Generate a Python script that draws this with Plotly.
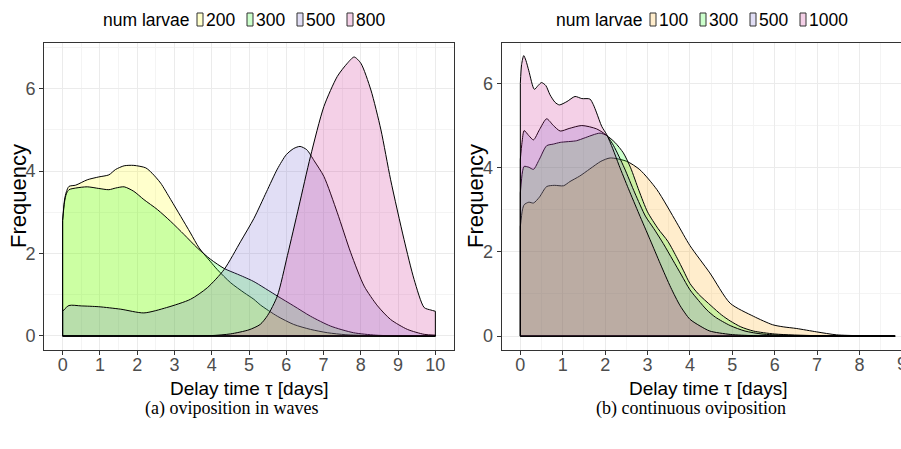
import plotly.graph_objects as go

W, H = 901, 449

# ---------------- panel (a): oviposition in waves ----------------
a_levels = ["200", "300", "500", "800"]

a200_x = [0, 0.05, 0.1, 0.17, 0.35, 0.66, 0.97, 1.24, 1.42, 1.65, 1.91, 2.23, 2.4, 2.63, 2.9, 3.17,
          3.43, 3.66, 3.97, 4.15, 4.51, 4.87, 5.13, 5.31, 5.76, 6.2, 6.65, 7.1, 7.6, 8.2, 9.0, 10]
a200_y = [2.8, 3.3, 3.5, 3.63, 3.66, 3.79, 3.86, 3.91, 4.04, 4.13, 4.14, 4.08, 3.95, 3.71, 3.31, 2.9,
          2.5, 2.14, 1.8, 1.61, 1.29, 1.05, 0.89, 0.75, 0.48, 0.28, 0.16, 0.08, 0.03, 0.01, 0.0, 0.0]

a300_x = [0, 0.05, 0.1, 0.17, 0.35, 0.66, 0.97, 1.24, 1.42, 1.65, 1.91, 2.18, 2.54, 2.9, 3.26, 3.61,
          3.97, 4.33, 4.69, 4.87, 5.13, 5.76, 6.2, 6.65, 7.19, 7.8, 8.4, 9.2, 10]
a300_y = [2.8, 3.25, 3.45, 3.55, 3.59, 3.62, 3.58, 3.55, 3.59, 3.62, 3.51, 3.31, 3.07, 2.78, 2.46, 2.14,
          1.86, 1.64, 1.5, 1.43, 1.32, 0.97, 0.73, 0.48, 0.24, 0.08, 0.02, 0.0, 0.0]

a500_x = [0, 0.17, 0.5, 0.97, 1.56, 2.18, 2.79, 3.43, 3.88, 4.33, 4.78, 5.13, 5.47, 5.76, 6.0, 6.2,
          6.37, 6.55, 6.75, 7.01, 7.37, 7.73, 8.09, 8.45, 8.8, 9.25, 9.7, 10]
a500_y = [0.6, 0.74, 0.73, 0.71, 0.65, 0.56, 0.69, 0.89, 1.17, 1.61, 2.3, 2.85, 3.5, 4.05, 4.4, 4.55,
          4.6, 4.52, 4.25, 3.87, 2.99, 2.02, 1.21, 0.73, 0.4, 0.16, 0.04, 0.02]

a800_x = [0, 3.5, 4.0, 4.5, 5.0, 5.3, 5.5, 5.76, 6.03, 6.34, 6.65, 7.01, 7.37, 7.64, 7.82, 8.0,
          8.27, 8.54, 8.8, 9.16, 9.43, 9.7, 9.88, 10]
a800_y = [0, 0, 0.01, 0.05, 0.15, 0.28, 0.5, 0.97, 1.95, 3.15, 4.36, 5.57, 6.3, 6.62, 6.77, 6.62,
          5.97, 5.0, 3.79, 2.34, 1.37, 0.69, 0.63, 0.6]

# ---------------- panel (b): continuous oviposition ----------------
b_levels = ["100", "300", "500", "1000"]

b100_x = [0, 0.05, 0.09, 0.2, 0.31, 0.45, 0.62, 0.8, 1.02, 1.17, 1.4, 1.64, 1.9, 2.12, 2.51, 2.82,
          3.22, 3.69, 4.0, 4.47, 4.95, 5.5, 5.95, 6.2, 6.52, 6.99, 7.46, 8.0, 8.84]
b100_y = [2.6, 3.0, 3.12, 3.18, 3.16, 3.3, 3.55, 3.58, 3.57, 3.67, 3.8, 3.97, 4.15, 4.23, 4.15, 3.95,
          3.48, 2.69, 2.15, 1.5, 0.78, 0.47, 0.27, 0.22, 0.18, 0.1, 0.03, 0.01, 0.0]

b300_x = [0, 0.05, 0.09, 0.2, 0.31, 0.45, 0.62, 0.78, 0.94, 1.33, 1.5, 1.88, 2.04, 2.23, 2.43, 2.6,
          2.8, 3.0, 3.25, 3.48, 3.7, 3.85, 4.0, 4.2, 4.5, 4.75, 4.95, 5.2, 5.5, 6.0, 7.0, 8.84]
b300_y = [3.4, 3.9, 4.03, 4.01, 3.96, 4.2, 4.52, 4.56, 4.6, 4.64, 4.7, 4.82, 4.76, 4.6, 4.35, 4.0,
          3.45, 2.95, 2.55, 2.25, 1.85, 1.55, 1.25, 1.0, 0.72, 0.5, 0.36, 0.22, 0.12, 0.05, 0.01, 0.0]

b500_x = [0, 0.04, 0.09, 0.2, 0.31, 0.45, 0.62, 0.78, 0.94, 1.15, 1.45, 1.8, 2.04, 2.2, 2.45, 2.7,
          2.95, 3.15, 3.37, 3.6, 3.8, 4.0, 4.2, 4.4, 4.6, 4.95, 5.3, 5.7, 6.2, 7.0, 8.84]
b500_y = [4.2, 4.6, 4.88, 4.76, 4.66, 4.9, 5.16, 5.0, 4.87, 4.93, 5.0, 4.92, 4.76, 4.52, 4.0, 3.4,
          2.85, 2.55, 2.2, 1.8, 1.45, 1.1, 0.85, 0.62, 0.45, 0.25, 0.12, 0.05, 0.02, 0.01, 0.0]

b1000_x = [0, 0.03, 0.08, 0.13, 0.2, 0.33, 0.42, 0.5, 0.6, 0.7, 0.82, 0.92, 1.1, 1.29, 1.45, 1.64,
           1.72, 1.8, 1.92, 2.04, 2.18, 2.33, 2.55, 2.8, 3.06, 3.3, 3.55, 3.77, 4.0, 4.24, 4.47,
           4.95, 5.5, 6.5, 8.84]
b1000_y = [6.0, 6.45, 6.66, 6.55, 6.3, 5.86, 5.95, 6.02, 5.95, 5.73, 5.55, 5.49, 5.57, 5.69, 5.64, 5.63,
           5.5, 5.3, 4.98, 4.78, 4.45, 4.05, 3.5, 2.9, 2.29, 1.72, 1.15, 0.72, 0.4, 0.24, 0.12,
           0.04, 0.01, 0.0, 0.0]

a_series = [(a200_x, a200_y), (a300_x, a300_y), (a500_x, a500_y), (a800_x, a800_y)]
b_series = [(b100_x, b100_y), (b300_x, b300_y), (b500_x, b500_y), (b1000_x, b1000_y)]

a_colors = ["rgba(255,255,0,0.2)", "rgba(0,255,0,0.2)", "rgba(106,90,205,0.2)", "rgba(199,21,133,0.2)"]
b_colors = ["rgba(255,165,0,0.2)", "rgba(0,255,0,0.2)", "rgba(106,90,205,0.2)", "rgba(199,21,133,0.2)"]

SANS = "Liberation Sans"
fig = go.Figure()


def add_density(xs, ys, color, name, xref, yref):
    # smooth upper outline with the area filled down to zero
    fig.add_trace(go.Scatter(
        x=xs, y=ys, mode="lines", fill="tozeroy", fillcolor=color, name=name,
        line=dict(color="black", width=1, shape="spline", smoothing=0.7),
        xaxis=xref, yaxis=yref, showlegend=False, hoverinfo="skip"))
    # the straight parts of the outline: both vertical edges and the baseline
    ex = [xs[0], xs[0], None, xs[-1], xs[-1], None, xs[0], xs[-1]]
    ey = [0, ys[0], None, ys[-1], 0, None, 0, 0]
    fig.add_trace(go.Scatter(
        x=ex, y=ey, mode="lines", line=dict(color="black", width=1),
        xaxis=xref, yaxis=yref, showlegend=False, hoverinfo="skip"))


for (xs, ys), c, n in zip(a_series, a_colors, a_levels):
    add_density(xs, ys, c, n, "x", "y")
for (xs, ys), c, n in zip(b_series, b_colors, b_levels):
    add_density(xs, ys, c, n, "x2", "y2")

# ---- layout geometry (pixels) ----
L1, R1 = 44, 454
L2 = 501.6
TOP, BOT = 43, 350
X2_RANGE = [-0.442, 8.979]


def fx(p):
    return p / W


def fy(p):
    return 1 - p / H


tickfont = dict(family=SANS, size=18, color="#4d4d4d")
common_x = dict(ticks="outside", ticklen=4, tickcolor="#333333", tickwidth=1, showline=True,
                linecolor="#333333", linewidth=1, showgrid=True, gridcolor="#ebebeb", gridwidth=1,
                zeroline=False, tickfont=tickfont, dtick=1, tick0=0, ticklabelstandoff=-6,
                minor=dict(dtick=0.5, tick0=0, showgrid=True, gridcolor="#f4f4f4", gridwidth=0.6, ticks=""))
common_y = dict(ticks="outside", ticklen=4, tickcolor="#333333", tickwidth=1, showline=True,
                linecolor="#333333", linewidth=1, showgrid=True, gridcolor="#ebebeb", gridwidth=1,
                zeroline=False, tickfont=tickfont, dtick=2, tick0=0,
                minor=dict(dtick=1, tick0=0, showgrid=True, gridcolor="#f4f4f4", gridwidth=0.6, ticks=""))

fig.update_layout(
    width=W, height=H, margin=dict(l=0, r=0, t=0, b=0),
    paper_bgcolor="white", plot_bgcolor="white", showlegend=False,
    xaxis=dict(domain=[fx(L1), fx(R1)], range=[-0.5, 10.5], anchor="y", mirror=True, **common_x),
    yaxis=dict(domain=[fy(BOT), fy(TOP)], range=[-0.34, 7.11], anchor="x", mirror=True, **common_y),
    xaxis2=dict(domain=[fx(L2), 1.0], range=X2_RANGE, anchor="y2", mirror=True, **common_x),
    yaxis2=dict(domain=[fy(BOT), fy(TOP)], range=[-0.33, 6.96], anchor="x2", mirror=False, **common_y),
)

ann = []
shapes = []


def text(t, x, y, font, **kw):
    d = dict(text=t, x=x, y=y, xref="paper", yref="paper", showarrow=False, font=font,
             xanchor="center", yanchor="middle")
    d.update(kw)
    ann.append(d)


# axis titles
for cx in (249, 708):
    text("Delay time τ [days]", fx(cx), fy(388), dict(family=SANS, size=19, color="black"))
for cx in (18, 475):
    text("Frequency", fx(cx), fy(196), dict(family=SANS, size=22, color="black"), textangle=-90)

# tick label 9 of panel (b), cut by the right edge of the picture
d0 = fx(L2)
x9 = d0 + (9 - X2_RANGE[0]) / (X2_RANGE[1] - X2_RANGE[0]) * (1 - d0)
text("9", x9, fy(364), tickfont)

# captions
text("(a) oviposition in waves", fx(232), fy(408), dict(family="Liberation Serif", size=18, color="black"))
text("(b) continuous oviposition", fx(691), fy(408), dict(family="Liberation Serif", size=18, color="black"))


# legends
def legend(title_x, key0, levels, colors):
    text("num larvae", fx(title_x), fy(19.5), dict(family=SANS, size=17.5, color="black"), xanchor="left")
    for i, (lv, c) in enumerate(zip(levels, colors)):
        kx = key0 + 50 * i
        shapes.append(dict(type="rect", xref="paper", yref="paper", x0=fx(kx), x1=fx(kx + 6),
                           y0=fy(26), y1=fy(13), fillcolor=c, line=dict(color="#333333", width=1)))
        text(lv, fx(kx + 7), fy(19.5), dict(family=SANS, size=17.5, color="black"), xanchor="left")


legend(101, 197, a_levels, a_colors)
legend(554, 650, b_levels, b_colors)

fig.update_layout(annotations=ann, shapes=shapes)
fig.write_html("out.html")
